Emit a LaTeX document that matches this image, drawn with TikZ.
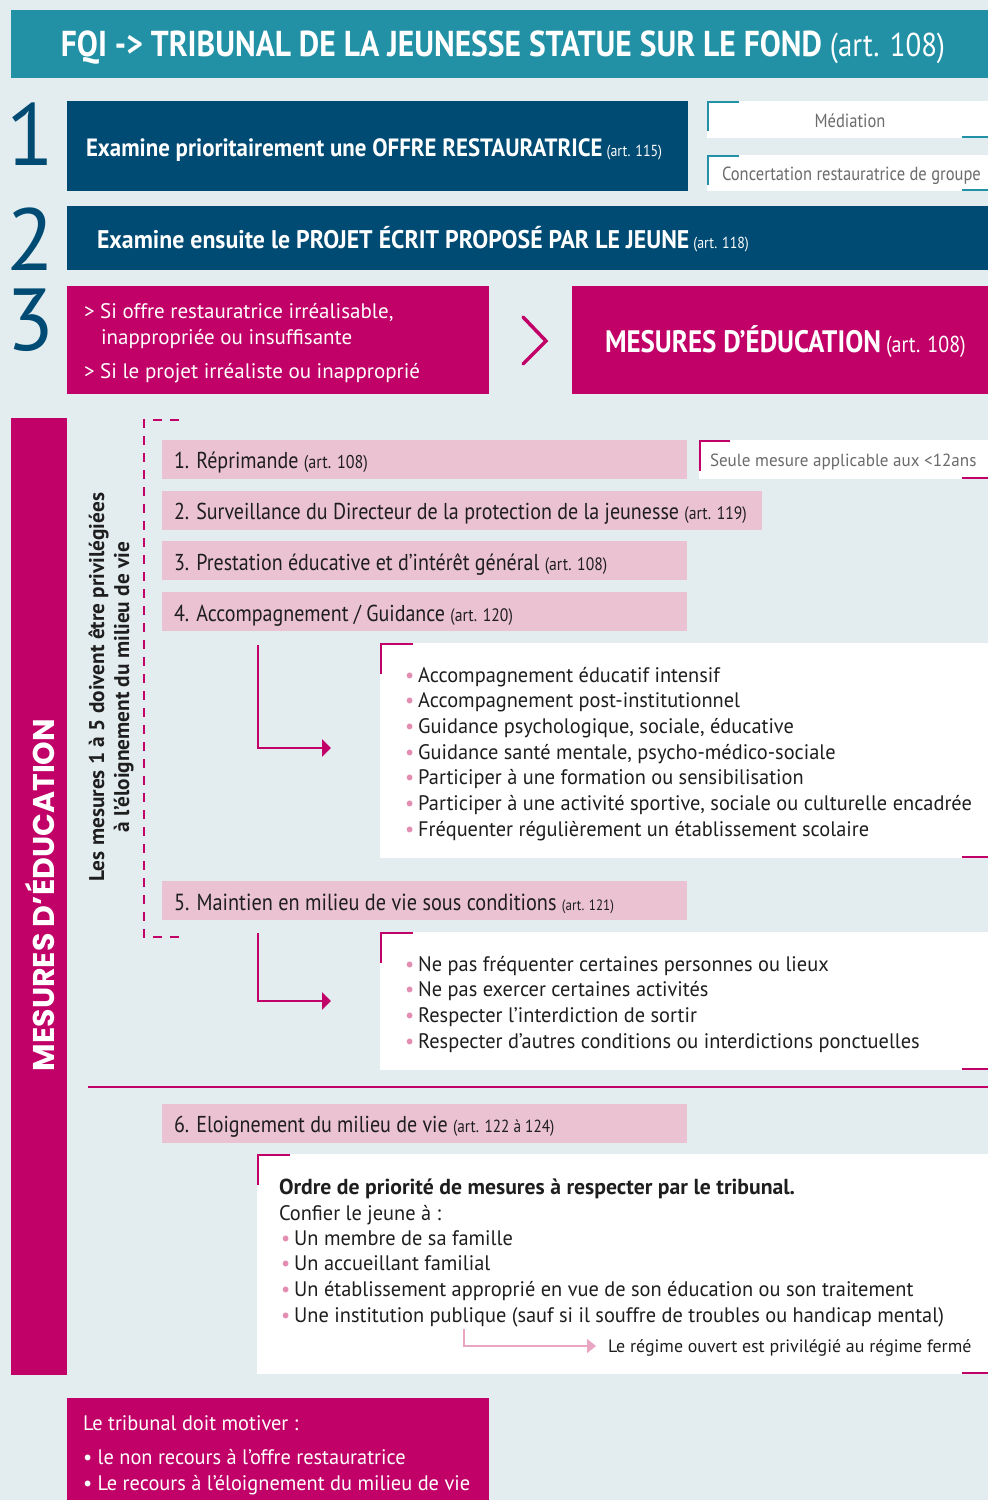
\documentclass[tikz,border=0pt]{standalone}
\usepackage{fontspec}
\setmainfont{PT Sans}
\newfontfamily\titlefam[FakeStretch=0.875]{PT Sans}
\newfontfamily\boxfamA[FakeStretch=0.915]{PT Sans}
\newfontfamily\boxfamB[FakeStretch=0.934]{PT Sans}
\newfontfamily\narrow[FakeStretch=0.87]{PT Sans}
\newfontfamily\lst[FakeStretch=0.97]{PT Sans}
\newfontfamily\geo{Poppins}
\usetikzlibrary{arrows.meta}
\definecolor{bgc}{HTML}{E3ECEF}
\definecolor{teal}{HTML}{2391A5}
\definecolor{navy}{HTML}{004B73}
\definecolor{mag}{HTML}{C10068}
\definecolor{pinkbox}{HTML}{EBC2D2}
\definecolor{bulpink}{HTML}{E38DB3}
\definecolor{lightarrow}{HTML}{E8A6C2}
\definecolor{graytxt}{HTML}{6B6B6B}
\definecolor{darktxt}{HTML}{1E1E1E}
\newcommand{\bul}{{\color{bulpink}\textbullet}\hspace{4pt}}
\begin{document}
\begin{tikzpicture}[x=1pt,y=-1pt,
  box/.style={inner sep=0pt, outer sep=0pt, anchor=north west},
  txt/.style={inner sep=0pt, outer sep=0pt, anchor=base west},
  corner/.style={line width=2.5pt},
  magarrow/.style={draw=mag, line width=2.5pt, -{Triangle[length=9pt,width=17pt]}},
  itemfont/.style={font=\narrow\fontsize{23}{27}\selectfont, text=darktxt},
  listfont/.style={font=\lst\fontsize{21}{25}\selectfont, text=darktxt}]
\useasboundingbox (0,0) rectangle (988,1500);
% background
\node[box, fill=bgc, minimum width=988pt, minimum height=1500pt] (bgr) at (0,0) {};
% title
\node[box, fill=teal, minimum width=977pt, minimum height=68pt] (title) at (11,10) {};
\node[inner sep=0pt, anchor=base, text=white] (titletxt) at (503,56)
  {{\titlefam\bfseries\fontsize{36}{40}\selectfont FQI -> TRIBUNAL DE LA JEUNESSE STATUE SUR LE FOND}\hspace{8pt}{\titlefam\fontsize{33}{40}\selectfont (art. 108)}};
% numbers
\node[inner sep=0pt, anchor=base west, text=navy, font=\fontsize{88}{90}\selectfont] (n1) at (6,165) {1};
\node[inner sep=0pt, anchor=base west, text=navy, font=\fontsize{88}{90}\selectfont] (n2) at (6,270) {2};
\node[inner sep=0pt, anchor=base west, text=navy, font=\fontsize{88}{90}\selectfont] (n3) at (6,350) {3};
% step 1
\node[box, fill=navy, minimum width=621pt, minimum height=90pt] (b1) at (67,101) {};
\node[txt, text=white] (b1t) at (86,156.5)
  {{\boxfamA\bfseries\fontsize{25}{28}\selectfont Examine prioritairement une OFFRE RESTAURATRICE}\hspace{4pt}{\narrow\fontsize{16}{20}\selectfont (art. 115)}};
\node[box, fill=white, minimum width=281pt, minimum height=37pt] (med) at (707,101) {};
\node[inner sep=0pt, anchor=base, text=graytxt, font=\narrow\fontsize{19}{22}\selectfont] (medt) at (850,127) {Médiation};
\draw[teal, corner] (708,131) -- (708,102) -- (739,102);
\draw[teal, corner] (962,137) -- (988,137);
\node[box, fill=white, minimum width=281pt, minimum height=36pt] (conc) at (707,155) {};
\node[txt, text=graytxt, font=\narrow\fontsize{19}{22}\selectfont] (conct) at (722,180) {Concertation restauratrice de groupe};
\draw[teal, corner] (708,185) -- (708,156) -- (739,156);
\draw[teal, corner] (962,190) -- (988,190);
% step 2
\node[box, fill=navy, minimum width=921pt, minimum height=64pt] (b2) at (67,206) {};
\node[txt, text=white] (b2t) at (97,248.5)
  {{\boxfamB\bfseries\fontsize{25.5}{28}\selectfont Examine ensuite le PROJET ÉCRIT PROPOSÉ PAR LE JEUNE}\hspace{4pt}{\narrow\fontsize{16}{20}\selectfont (art. 118)}};
% step 3
\node[box, fill=mag, minimum width=422pt, minimum height=108pt] (b3) at (67,286) {};
\node[txt, text=white, font=\fontsize{21}{25}\selectfont] (b3a) at (84,318) {> Si offre restauratrice irréalisable,};
\node[txt, text=white, font=\fontsize{21}{25}\selectfont] (b3b) at (101,344) {inappropriée ou insuffisante};
\node[txt, text=white, font=\fontsize{21}{25}\selectfont] (b3c) at (84,378) {> Si le projet irréaliste ou inapproprié};
\coordinate (chA) at (523,317);
\coordinate (chB) at (546,341);
\coordinate (chC) at (523,364);
\draw[mag, line width=3.5pt, line cap=round, line join=miter] (chA) -- (chB) -- (chC);
\node[box, fill=mag, minimum width=416pt, minimum height=108pt] (b3r) at (572,286) {};
\node[txt, text=white] (b3rt) at (605,352.5)
  {{\narrow\bfseries\fontsize{31}{34}\selectfont MESURES D’ÉDUCATION}\hspace{5pt}{\narrow\fontsize{23}{26}\selectfont (art. 108)}};
% left bar
\node[box, fill=mag, minimum width=56pt, minimum height=957pt] (lbar) at (11,418) {};
\node[inner sep=0pt, rotate=90, text=white, font=\geo\bfseries\fontsize{30}{33}\selectfont] (lbart) at (40,895) {MESURES D’ÉDUCATION};
\node[inner sep=0pt, rotate=90, align=center, text=darktxt, font=\bfseries\fontsize{21.3}{25}\selectfont] (vtxt) at (111,687)
  {Les mesures 1 à 5 doivent être privilégiées\\à l’éloignement du milieu de vie};
% dashed bracket
\coordinate (dA) at (179,420);
\coordinate (dB) at (144,420);
\coordinate (dC) at (144,937);
\coordinate (dD) at (181,937);
\draw[mag, line width=2.5pt, dash pattern=on 9pt off 8pt] (dA) -- (dB) -- (dC) -- (dD);
% pink items
\node[box, fill=pinkbox, minimum width=525pt, minimum height=39pt] (p1) at (162,440) {};
\node[txt, itemfont] (p1t) at (174,468) {1. Réprimande {\fontsize{18.5}{20}\selectfont(art. 108)}};
\node[box, fill=pinkbox, minimum width=600pt, minimum height=39pt] (p2) at (162,491) {};
\node[txt, itemfont] (p2t) at (174,519) {2. Surveillance du Directeur de la protection de la jeunesse {\fontsize{18}{20}\selectfont(art. 119)}};
\node[box, fill=pinkbox, minimum width=525pt, minimum height=39pt] (p3) at (162,541) {};
\node[txt, itemfont] (p3t) at (174,570) {3. Prestation éducative et d’intérêt général {\fontsize{18}{20}\selectfont(art. 108)}};
\node[box, fill=pinkbox, minimum width=525pt, minimum height=39pt] (p4) at (162,592) {};
\node[txt, itemfont] (p4t) at (174,621) {4. Accompagnement / Guidance {\fontsize{18}{20}\selectfont(art. 120)}};
\node[box, fill=pinkbox, minimum width=525pt, minimum height=39pt] (p5) at (162,881) {};
\node[txt, itemfont, font=\narrow\fontsize{23.3}{27}\selectfont] (p5t) at (174,910) {5. Maintien en milieu de vie sous conditions {\fontsize{15}{18}\selectfont(art. 121)}};
\node[box, fill=pinkbox, minimum width=525pt, minimum height=39pt] (p6) at (162,1104) {};
\node[txt, itemfont] (p6t) at (174,1132) {6. Eloignement du milieu de vie {\fontsize{17.5}{20}\selectfont(art. 122 à 124)}};
% seule mesure
\node[box, fill=white, minimum width=289pt, minimum height=39pt] (seule) at (699,440) {};
\node[txt, text=graytxt, font=\lst\fontsize{17.6}{22}\selectfont] (seulet) at (710,466) {Seule mesure applicable aux <12ans};
\draw[mag, corner] (700,471) -- (700,441) -- (730,441);
\draw[mag, corner] (962,478) -- (988,478);
% list 4
\node[box, fill=white, minimum width=608pt, minimum height=215pt] (l4) at (380,643) {};
\draw[mag, corner] (381,674) -- (381,644) -- (413,644);
\draw[mag, corner] (962,857) -- (988,857);
\foreach \t [count=\i from 0] in {Accompagnement éducatif intensif, Accompagnement post-institutionnel, {Guidance psychologique, sociale, éducative}, {Guidance santé mentale, psycho-médico-sociale}, Participer à une formation ou sensibilisation, {Participer à une activité sportive, sociale ou culturelle encadrée}, Fréquenter régulièrement un établissement scolaire}
  \node[txt, listfont] (l4-\i) at (405,682+25.7*\i) {\bul\t};
\coordinate (a4s) at (258,645);
\coordinate (a4e) at (331,748);
\draw[magarrow] (a4s) |- (a4e);
% list 5
\node[box, fill=white, minimum width=608pt, minimum height=138pt] (l5) at (380,932) {};
\draw[mag, corner] (381,963) -- (381,933) -- (413,933);
\draw[mag, corner] (962,1069) -- (988,1069);
\foreach \t [count=\i from 0] in {Ne pas fréquenter certaines personnes ou lieux, Ne pas exercer certaines activités, Respecter l’interdiction de sortir, Respecter d’autres conditions ou interdictions ponctuelles}
  \node[txt, listfont] (l5-\i) at (405,971+25.9*\i) {\bul\t};
\coordinate (a5s) at (258,933);
\coordinate (a5e) at (331,1001);
\draw[magarrow] (a5s) |- (a5e);
% divider
\coordinate (divA) at (88,1087);
\coordinate (divB) at (988,1087);
\draw[mag, line width=1.5pt] (divA) -- (divB);
% box 6
\node[box, fill=white, minimum width=731pt, minimum height=220pt] (l6) at (257,1154) {};
\draw[mag, corner] (258,1185) -- (258,1155) -- (290,1155);
\draw[mag, corner] (962,1373) -- (988,1373);
\node[txt, text=darktxt, font=\bfseries\fontsize{21.7}{25}\selectfont] (l6h) at (279,1194) {Ordre de priorité de mesures à respecter par le tribunal.};
\node[txt, listfont] (l6c) at (279,1220) {Confier le jeune à :};
\foreach \t [count=\i from 0] in {Un membre de sa famille, Un accueillant familial, Un établissement approprié en vue de son éducation ou son traitement, Une institution publique (sauf si il souffre de troubles ou handicap mental)}
  \node[txt, listfont] (l6-\i) at (281,1245+25.7*\i) {\bul\t};
\coordinate (a6s) at (464,1329);
\node[txt, text=darktxt, font=\fontsize{17.9}{20}\selectfont] (a6t) at (608,1352) {Le régime ouvert est privilégié au régime fermé};
\draw[lightarrow, line width=1.5pt, -{Triangle[length=9pt,width=14pt]}] (a6s) |- ([xshift=-12pt]a6t.west |- 0,1346);
% bottom box
\node[box, fill=mag, minimum width=422pt, minimum height=102pt] (bot) at (67,1398) {};
\node[txt, text=white, font=\lst\fontsize{21}{25}\selectfont] (bot1) at (83,1430) {Le tribunal doit motiver :};
\node[txt, text=white, font=\lst\fontsize{21}{25}\selectfont] (bot2) at (83,1464) {\textbullet\ le non recours à l’offre restauratrice};
\node[txt, text=white, font=\lst\fontsize{21}{25}\selectfont] (bot3) at (83,1490) {\textbullet\ Le recours à l’éloignement du milieu de vie};
\end{tikzpicture}
\end{document}
